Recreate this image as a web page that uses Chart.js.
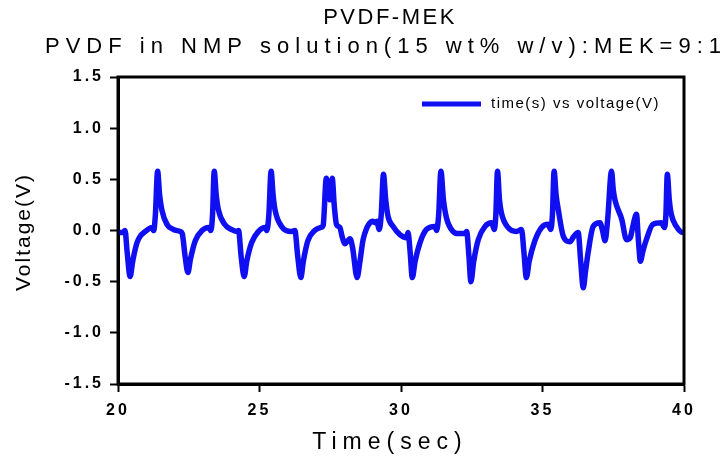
<!DOCTYPE html>
<html>
<head>
<meta charset="utf-8">
<script src="https://cdn.jsdelivr.net/npm/chart.js@4"></script>
<style>
  html, body { margin: 0; padding: 0; background: #fff; }
  #wrap { width: 726px; height: 463px; }
</style>
</head>
<body>
<div id="wrap"><canvas id="chart" width="726" height="463"></canvas></div>
<script>
const titleText = "PVDF-MEK";
const subtitleText = "PVDF in NMP solution(15 wt% w/v):MEK=9:1";
const legendText = "time(s) vs voltage(V)";
const xTitle = "Time(sec)";
const yTitle = "Voltage(V)";

const xTicks = [20, 25, 30, 35, 40];
const yTicks = [-1.5, -1.0, -0.5, 0.0, 0.5, 1.0, 1.5];

// time (s)
const times = [
  20.0, 20.15, 20.25, 20.32, 20.43, 20.52, 20.67, 20.8, 20.96, 21.2, 21.26, 21.32, 21.4, 21.47, 21.55, 21.73, 21.96,
  22.2, 22.27, 22.37, 22.47, 22.56, 22.73, 22.97, 23.2, 23.28, 23.34, 23.4, 23.47, 23.55, 23.77, 24.0,
  24.2, 24.26, 24.35, 24.46, 24.55, 24.72, 24.96, 25.2, 25.26, 25.33, 25.41, 25.48, 25.55, 25.78, 26.13,
  26.25, 26.35, 26.46, 26.55, 26.71, 26.95, 27.18, 27.25, 27.36, 27.43, 27.49, 27.57, 27.64, 27.72, 27.84,
  27.92, 28.02, 28.12, 28.2, 28.29, 28.45, 28.55, 28.66, 28.8, 28.9, 29.0, 29.1, 29.15, 29.23, 29.3, 29.38,
  29.46, 29.54, 29.72, 29.96, 30.19, 30.25, 30.32, 30.4, 30.5, 30.67, 30.9, 31.2, 31.26, 31.33, 31.41, 31.5,
  31.61, 31.84, 32.0, 32.26, 32.32, 32.4, 32.47, 32.57, 32.73, 32.97, 33.2, 33.3, 33.35, 33.41, 33.48, 33.55,
  33.78, 34.08, 34.26, 34.34, 34.43, 34.53, 34.73, 34.97, 35.2, 35.29, 35.35, 35.41, 35.48, 35.56, 35.74,
  35.97, 36.1, 36.26, 36.35, 36.44, 36.52, 36.61, 36.79, 37.03, 37.12, 37.21, 37.3, 37.44, 37.5, 37.56,
  37.8, 37.97, 38.1, 38.2, 38.32, 38.39, 38.46, 38.55, 38.67, 38.9, 39.2, 39.31, 39.36, 39.41, 39.48, 39.55,
  39.73, 39.96, 40.0
];

// voltage (V)
const volts = [
  -0.02, -0.02, 0.0, -0.2, -0.45, -0.3, -0.12, -0.05, -0.01, 0.03, 0.0, 0.15, 0.58, 0.35, 0.2, 0.06, 0.01,
  -0.01, -0.03, -0.25, -0.41, -0.28, -0.1, 0.0, 0.03, 0.0, 0.15, 0.58, 0.35, 0.2, 0.06, 0.01,
  -0.01, 0.0, -0.25, -0.45, -0.3, -0.12, -0.01, 0.03, 0.0, 0.15, 0.58, 0.35, 0.2, 0.04, -0.01,
  0.0, -0.25, -0.46, -0.3, -0.1, 0.0, 0.03, 0.05, 0.51, 0.4, 0.3, 0.51, 0.25, 0.06, 0.03,
  -0.06, -0.13, -0.1, -0.08, -0.17, -0.46, -0.3, -0.09, 0.03, 0.075, 0.09, 0.075, 0.09, 0.01, 0.15, 0.55,
  0.3, 0.14, 0.04, -0.04, -0.07, -0.02, -0.2, -0.46, -0.3, -0.12, 0.01, 0.04, 0.0, 0.15, 0.58, 0.3,
  0.12, -0.01, -0.03, -0.03, -0.01, -0.25, -0.5, -0.3, -0.09, 0.04, 0.075, 0.01, 0.15, 0.58, 0.3, 0.17,
  0.03, -0.01, 0.01, -0.2, -0.46, -0.3, -0.1, 0.03, 0.06, 0.01, 0.15, 0.58, 0.35, 0.2, -0.06,
  -0.11, -0.06, -0.02, -0.3, -0.56, -0.4, -0.22, 0.04, 0.075, 0.0, -0.1, 0.1, 0.58, 0.4, 0.3,
  0.11, -0.09, -0.07, 0.05, 0.16, -0.1, -0.3, -0.2, -0.09, 0.06, 0.075, 0.03, 0.15, 0.55, 0.3, 0.16,
  0.04, -0.02, -0.02
];

const FONT = "'Liberation Sans', Arial, sans-serif";
const BLUE = "#0f0ff2";

const points = times.map((t, i) => ({ x: t, y: volts[i] }));

const decor = {
  id: "decor",
  beforeDraw(chart) {
    chart.ctx.letterSpacing = "3px";
  },
  afterDraw(chart) {
    const { ctx, chartArea: a } = chart;
    ctx.save();
    // frame
    ctx.strokeStyle = "#000";
    ctx.lineWidth = 3;
    ctx.strokeRect(a.left, a.top, a.right - a.left, a.bottom - a.top);

    ctx.fillStyle = "#000";
    ctx.textAlign = "center";
    ctx.textBaseline = "middle";

    // titles
    ctx.font = `22px ${FONT}`;
    ctx.letterSpacing = "2.5px";
    ctx.fillText(titleText, 390, 18);
    ctx.letterSpacing = "6px";
    ctx.fillText(subtitleText, 386, 47);

    // x axis title
    ctx.letterSpacing = "6px";
    ctx.font = `23px ${FONT}`;
    ctx.fillText(xTitle, 390, 443);

    // y axis title
    ctx.letterSpacing = "2px";
    ctx.font = `21px ${FONT}`;
    ctx.save();
    ctx.translate(24, 232);
    ctx.rotate(-Math.PI / 2);
    ctx.fillText(yTitle, 0, 0);
    ctx.restore();

    // legend
    const ds = chart.data.datasets[0];
    ctx.strokeStyle = ds.borderColor;
    ctx.lineWidth = 5;
    ctx.lineCap = "butt";
    ctx.beginPath();
    ctx.moveTo(422, 104);
    ctx.lineTo(481, 104);
    ctx.stroke();
    ctx.textAlign = "left";
    ctx.letterSpacing = "1.5px";
    ctx.font = `15px ${FONT}`;
    ctx.fillText(ds.label, 491, 104);
    ctx.restore();
  }
};

new Chart(document.getElementById("chart"), {
  type: "line",
  data: {
    datasets: [
      {
        label: legendText,
        data: points,
        borderColor: BLUE,
        borderWidth: 5.5,
        pointRadius: 0,
        cubicInterpolationMode: "monotone",
        borderJoinStyle: "round",
        borderCapStyle: "round",
        fill: false
      }
    ]
  },
  options: {
    responsive: false,
    animation: false,
    devicePixelRatio: 1,
    layout: { padding: { left: 0, top: 77, right: 42, bottom: 0 } },
    plugins: { legend: { display: false }, title: { display: false }, tooltip: { enabled: false } },
    scales: {
      x: {
        type: "linear",
        min: 20,
        max: 40,
        afterBuildTicks: (s) => { s.ticks = xTicks.map((v) => ({ value: v })); },
        afterFit: (s) => { s.height = 79; },
        grid: { drawOnChartArea: false, drawTicks: true, tickLength: 8, tickWidth: 2, tickColor: "#000" },
        border: { display: true, color: "#000", width: 3 },
        ticks: { color: "#000", padding: 9, maxRotation: 0, font: { family: FONT, size: 16, weight: "bold" } }
      },
      y: {
        type: "linear",
        min: -1.5,
        max: 1.5,
        afterBuildTicks: (s) => { s.ticks = yTicks.map((v) => ({ value: v })); },
        afterFit: (s) => { s.width = 118; },
        grid: { drawOnChartArea: false, drawTicks: true, tickLength: 8, tickWidth: 2, tickColor: "#000" },
        border: { display: true, color: "#000", width: 3 },
        ticks: {
          color: "#000",
          padding: 6,
          font: { family: FONT, size: 16, weight: "bold" },
          callback: (v) => Number(v).toFixed(1)
        }
      }
    }
  },
  plugins: [decor]
});
</script>
</body>
</html>
